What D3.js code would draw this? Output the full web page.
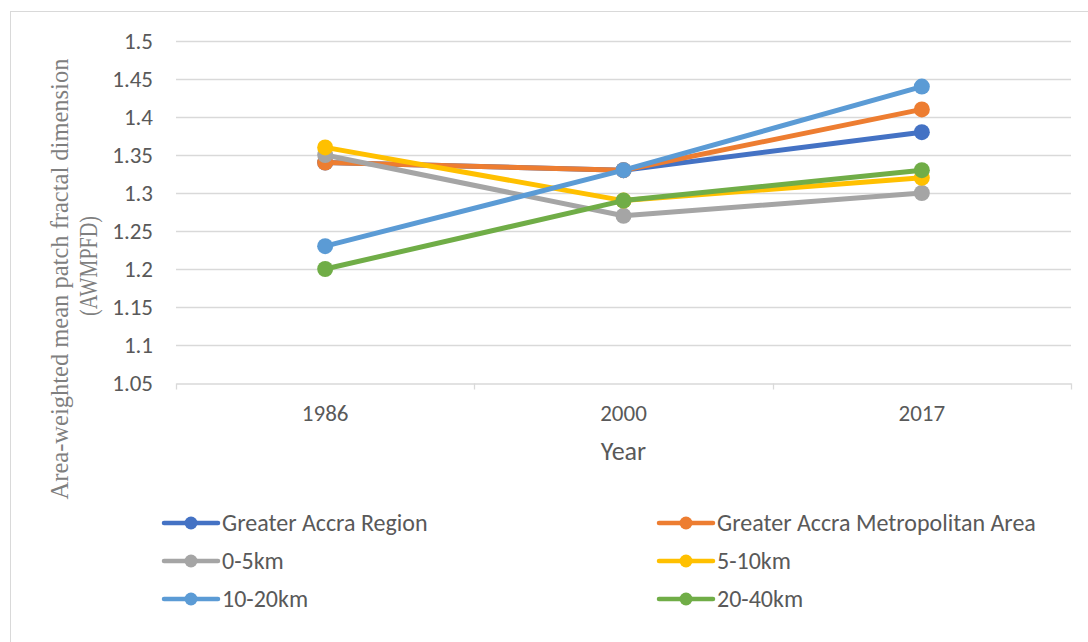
<!DOCTYPE html>
<html>
<head>
<meta charset="utf-8">
<script src="https://cdn.jsdelivr.net/npm/d3@7"></script>
<style>
  html, body { margin: 0; padding: 0; background: #fff; }
  svg { display: block; }
</style>
</head>
<body>
<svg id="chart" width="1088" height="642"></svg>
<script>
// Area-weighted mean patch fractal dimension by zone and year
const years = ["1986", "2000", "2017"];
const seriesNames = ["Greater Accra Region", "Greater Accra Metropolitan Area", "0-5km", "5-10km", "10-20km", "20-40km"];
const seriesColors = ["#4472C4", "#ED7D31", "#A5A5A5", "#FFC000", "#5B9BD5", "#70AD47"];
const greaterAccraRegion = [1.34, 1.33, 1.38];
const greaterAccraMetro = [1.34, 1.33, 1.41];
const zone0to5 = [1.35, 1.27, 1.30];
const zone5to10 = [1.36, 1.29, 1.32];
const zone10to20 = [1.23, 1.33, 1.44];
const zone20to40 = [1.20, 1.29, 1.33];
const yTicks = [1.05, 1.1, 1.15, 1.2, 1.25, 1.3, 1.35, 1.4, 1.45, 1.5];

const seriesValues = [greaterAccraRegion, greaterAccraMetro, zone0to5, zone5to10, zone10to20, zone20to40];
const series = seriesNames.map((name, i) => ({ name, color: seriesColors[i], values: seriesValues[i] }));

const svg = d3.select("#chart");
const labelFont = "Carlito, Calibri, Lato, sans-serif";
const textColor = "#595959";

// outer chart frame
svg.append("rect")
  .attr("x", 10.5).attr("y", 11.5)
  .attr("width", 1200).attr("height", 800)
  .attr("fill", "#fff").attr("stroke", "#d9d9d9").attr("stroke-width", 1);

const plot = { left: 176, right: 1071, top: 41, bottom: 383 };

const x = d3.scaleBand().domain(years).range([plot.left, plot.right]);
const y = d3.scaleLinear().domain([1.05, 1.5]).range([plot.bottom, plot.top]);

// horizontal gridlines
svg.append("g")
  .selectAll("line")
  .data(yTicks.filter(t => t > 1.05))
  .join("line")
  .attr("x1", plot.left).attr("x2", plot.right)
  .attr("y1", d => Math.round(y(d)) + 0.5).attr("y2", d => Math.round(y(d)) + 0.5)
  .attr("stroke", "#d9d9d9").attr("stroke-width", 1.3);

// y-axis tick labels
const yAxis = svg.append("g")
  .attr("transform", `translate(${plot.left},0)`)
  .call(d3.axisLeft(y).tickValues(yTicks).tickFormat(d => String(+d.toFixed(2))).tickSize(0).tickPadding(23));
yAxis.select(".domain").remove();
yAxis.selectAll("text")
  .attr("font-family", labelFont).attr("font-size", 23).attr("fill", textColor);

// x-axis line with category ticks
const xAxis = svg.append("g")
  .attr("transform", `translate(0,${Math.round(plot.bottom) + 0.5})`)
  .call(d3.axisBottom(x).tickSize(0));
xAxis.select(".domain").attr("stroke", "#d9d9d9").attr("stroke-width", 1.3);
xAxis.selectAll("text")
  .attr("y", 37).attr("dy", 0)
  .attr("font-family", labelFont).attr("font-size", 23).attr("fill", textColor);
const boundaries = years.map(d => x(d)).concat([x(years[years.length - 1]) + x.bandwidth()]);
xAxis.selectAll(".bound")
  .data(boundaries)
  .join("line")
  .attr("class", "bound")
  .attr("x1", d => Math.round(d) + 0.5).attr("x2", d => Math.round(d) + 0.5)
  .attr("y1", 0).attr("y2", 6)
  .attr("stroke", "#d9d9d9").attr("stroke-width", 1.3);

// axis titles
svg.append("text")
  .attr("x", (plot.left + plot.right) / 2).attr("y", 460)
  .attr("text-anchor", "middle")
  .attr("font-family", labelFont).attr("font-size", 26).attr("fill", textColor)
  .text("Year");

const yTitle = svg.append("text")
  .attr("transform", "translate(0,279) rotate(-90)")
  .attr("text-anchor", "middle")
  .attr("font-family", "'Liberation Serif', 'Times New Roman', serif")
  .attr("font-size", 24.5).attr("fill", "#7f7f7f");
yTitle.append("tspan").attr("x", 0).attr("y", 68).text("Area-weighted mean patch fractal dimension");
yTitle.append("tspan").attr("x", 13).attr("y", 97)
  .attr("textLength", 100).attr("lengthAdjust", "spacingAndGlyphs")
  .text("(AWMPFD)");

// series lines and markers
const cx = d => x(d) + x.bandwidth() / 2;
const line = d3.line().x((v, i) => cx(years[i])).y(v => y(v));

const groups = svg.append("g")
  .selectAll("g")
  .data(series)
  .join("g");

groups.append("path")
  .attr("d", d => line(d.values))
  .attr("fill", "none")
  .attr("stroke", d => d.color)
  .attr("stroke-width", 5)
  .attr("stroke-linejoin", "round")
  .attr("stroke-linecap", "round");

groups.selectAll("circle")
  .data(d => d.values.map((v, i) => ({ v, i, color: d.color })))
  .join("circle")
  .attr("cx", d => cx(years[d.i]))
  .attr("cy", d => y(d.v))
  .attr("r", 8)
  .attr("fill", d => d.color);

// legend: two columns, three rows
const legend = svg.append("g");
const legendItems = legend.selectAll("g")
  .data(series)
  .join("g")
  .attr("transform", (d, i) => `translate(${i % 2 === 0 ? 164 : 659},${523 + Math.floor(i / 2) * 38})`);

legendItems.append("line")
  .attr("x1", 0).attr("x2", 54).attr("y1", 0).attr("y2", 0)
  .attr("stroke", d => d.color).attr("stroke-width", 4.5).attr("stroke-linecap", "round");
legendItems.append("circle")
  .attr("cx", 27).attr("cy", 0).attr("r", 6.5)
  .attr("fill", d => d.color);
legendItems.append("text")
  .attr("x", 58).attr("y", 0).attr("dy", "0.33em")
  .attr("font-family", labelFont).attr("font-size", 24).attr("fill", textColor)
  .text(d => d.name);
</script>
</body>
</html>
